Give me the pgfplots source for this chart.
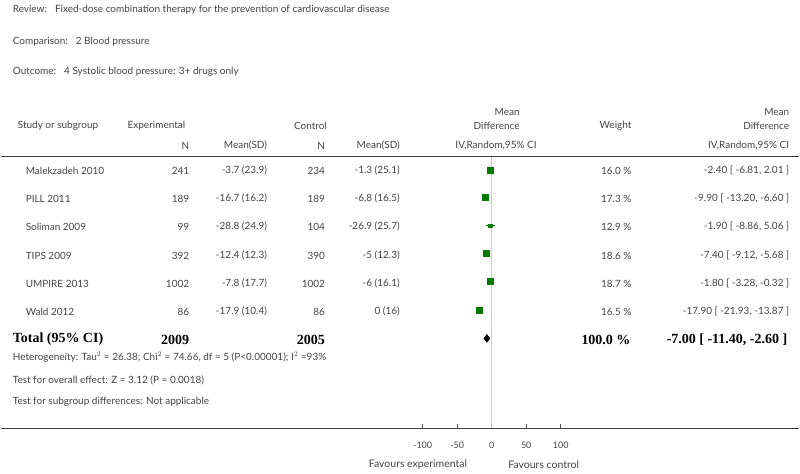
\documentclass[border=0pt]{standalone}
\usepackage{pgfplots}
\pgfplotsset{compat=1.18}
\usepackage{fontspec}
\setmainfont{Lato}
\newfontfamily\serifb{Liberation Serif}
\definecolor{txt}{HTML}{444444}
\definecolor{sqgreen}{HTML}{007A00}
\begin{document}
\begin{tikzpicture}[x=1pt,y=-1pt,every node/.style={inner sep=0pt,text=txt,font=\fontsize{10}{12}\selectfont}]
\path (0,0) rectangle (800,474);
% header info
\node[anchor=west] at (12,10) {Review:\hspace{8pt}Fixed-dose combination therapy for the prevention of cardiovascular disease};
\node[anchor=west] at (12,42) {Comparison:\hspace{8pt}2 Blood pressure};
\node[anchor=west] at (12,72) {Outcome:\hspace{8pt}4 Systolic blood pressure: 3+ drugs only};
% column headers
\node[anchor=west] at (17,126) {Study or subgroup};
\node[anchor=west] at (127,126) {Experimental};
\node[anchor=east] at (327,126) {Control};
\node[anchor=east] at (520,112) {Mean};
\node[anchor=east] at (520,126) {Difference};
\node[anchor=east] at (632,126) {Weight};
\node[anchor=east] at (790,112) {Mean};
\node[anchor=east] at (790,126) {Difference};
\node[anchor=east] at (189,146) {N};
\node[anchor=east] at (267,146) {Mean(SD)};
\node[anchor=east] at (325,146) {N};
\node[anchor=east] at (400,146) {Mean(SD)};
\node[anchor=east] at (537,146) {IV,Random,95\% CI};
\node[anchor=east] at (790,146) {IV,Random,95\% CI};
\draw[line width=1.3pt,black!75] (0,157) -- (800,157);
% rows
\foreach \y/\s/\en/\em/\cn/\cm/\w/\ci in {
 171/Malekzadeh 2010/241/-3.7 (23.9)/234/-1.3 (25.1)/16.0 \%/-2.40 [ -6.81{,} 2.01 ],
 199/PILL 2011/189/-16.7 (16.2)/189/-6.8 (16.5)/17.3 \%/-9.90 [ -13.20{,} -6.60 ],
 227/Soliman 2009/99/-28.8 (24.9)/104/-26.9 (25.7)/12.9 \%/-1.90 [ -8.86{,} 5.06 ],
 256/TIPS 2009/392/-12.4 (12.3)/390/-5 (12.3)/18.6 \%/-7.40 [ -9.12{,} -5.68 ],
 284/UMPIRE 2013/1002/-7.8 (17.7)/1002/-6 (16.1)/18.7 \%/-1.80 [ -3.28{,} -0.32 ],
 312/Wald 2012/86/-17.9 (10.4)/86/0 (16)/16.5 \%/-17.90 [ -21.93{,} -13.87 ]}{
 \node[anchor=west] at (25,\y) {\s};
 \node[anchor=east] at (189,\y) {\en};
 \node[anchor=east] at (267,\y) {\em};
 \node[anchor=east] at (325,\y) {\cn};
 \node[anchor=east] at (400,\y) {\cm};
 \node[anchor=east] at (632,\y) {\w};
 \node[anchor=east] at (790,\y) {\ci};
}
% totals
\begin{scope}[every node/.style={inner sep=0pt,text=black,font=\serifb\bfseries\fontsize{14}{16}\selectfont}]
\node[anchor=west] at (12,340) {Total (95\% CI)};
\node[anchor=east] at (189,340) {2009};
\node[anchor=east] at (325,340) {2005};
\node[anchor=east] at (631,340) {100.0 \%};
\node[anchor=east] at (788,340) {-7.00 [ -11.40, -2.60 ]};
\end{scope}
\node[anchor=west] at (12,358) {Heterogeneity: Tau$^{2}$ = 26.38; Chi$^{2}$ = 74.66, df = 5 (P<0.00001); I$^{2}$ =93\%};
\node[anchor=west] at (12,381) {Test for overall effect: Z = 3.12 (P = 0.0018)};
\node[anchor=west] at (12,402) {Test for subgroup differences: Not applicable};
\draw[line width=1.3pt,black!75] (0,429) -- (800,429);
\node[font=\fontsize{10.5}{12}\selectfont] at (418,465) {Favours experimental};
\node[font=\fontsize{10.5}{12}\selectfont] at (544,465) {Favours control};
% plot
\begin{axis}[at={(422.7pt,-157pt)}, anchor=north west, scale only axis,
 width=138.3pt, height=272pt, xmin=-100, xmax=100, ymin=-429, ymax=-157,
 axis x line*=bottom, axis y line=none, axis line style={draw=none},
 xtick={-100,-50,0,50,100}, tick align=inside, major tick length=4pt,
 tick style={black!70, line width=0.8pt},
 xticklabel style={font=\fontsize{9}{11}\selectfont, text=txt, yshift=-14pt},
 /pgf/number format/assume math mode=true,
 clip=false,
 study/.style={only marks, mark=square*, draw=sqgreen, fill=sqgreen,
  mark options={draw=sqgreen, fill=sqgreen},
  error bars/x dir=both, error bars/x explicit, error bars/error mark=none,
  error bars/error bar style={line width=0.9pt, draw=sqgreen}}]
\addplot[black!20, line width=1.2pt, no marks] coordinates {(0,-157) (0,-429)};
\addplot[study, mark size=3pt] coordinates {(-2.40,-170) += (4.41,0) -= (4.41,0)};
\addplot[study, mark size=3pt] coordinates {(-9.90,-198) += (3.30,0) -= (3.30,0)};
\addplot[study, mark size=1.8pt] coordinates {(-1.90,-226) += (6.96,0) -= (6.96,0)};
\addplot[study, mark size=3pt] coordinates {(-7.40,-254) += (1.72,0) -= (1.72,0)};
\addplot[study, mark size=3pt] coordinates {(-1.80,-282) += (1.48,0) -= (1.48,0)};
\addplot[study, mark size=3pt] coordinates {(-17.90,-311) += (4.03,0) -= (4.03,0)};
\addplot[fill=black, draw=black, no marks] coordinates {(-11.40,-339) (-7.00,-335) (-2.60,-339) (-7.00,-343)} -- cycle;
\end{axis}
\end{tikzpicture}
\end{document}
